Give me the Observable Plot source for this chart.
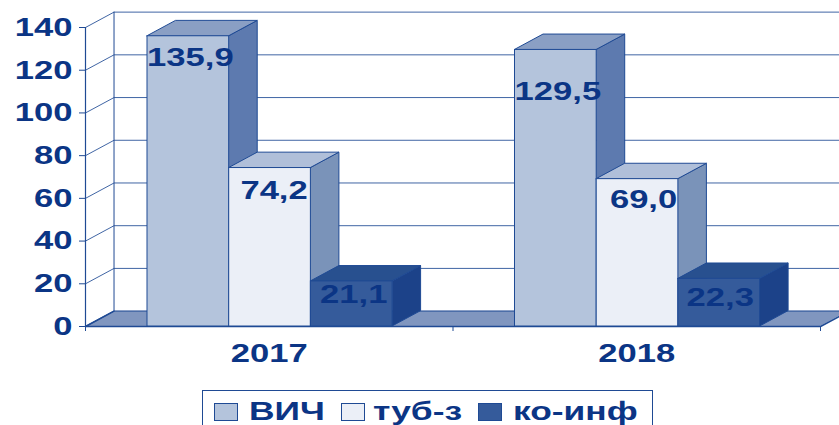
<!DOCTYPE html>
<html><head><meta charset="utf-8">
<script src="https://cdn.jsdelivr.net/npm/d3@7"></script>
<script src="https://cdn.jsdelivr.net/npm/@observablehq/plot@0.6"></script>
<style>
html,body{margin:0;padding:0;background:#fff;overflow:hidden;width:839px;height:425px}
#chart svg{display:block}
#legend{position:relative;margin-left:202px;width:451px;height:45px;border:1.5px solid #1f4a94;border-bottom:none;box-sizing:border-box;font:bold 26px "Liberation Sans",sans-serif;color:#0b3585}
#legend i{position:absolute;top:12px;width:22px;height:16px;border:1px solid #1f4a94}
#legend span{position:absolute;top:2px;line-height:36px;transform-origin:0 50%;transform:scaleX(1.36);white-space:nowrap}
</style></head>
<body><div id="chart"></div><div id="legend"></div>
<script>
const years = ["2017", "2018"];
const series = ["ВИЧ", "туб-з", "ко-инф"];
const values2017 = [135.9, 74.2, 21.1];
const values2018 = [129.5, 69.0, 22.3];
const labels2017 = ["135,9", "74,2", "21,1"];
const labels2018 = ["129,5", "69,0", "22,3"];
const yTicks = [0, 20, 40, 60, 80, 100, 120, 140];

const frontColors = ["#b4c4dc", "#ebeff7", "#355b9b"];
const sideColors = ["#5d7aaf", "#7a93b9", "#1c4289"];
const topColors = ["#8a9fc4", "#b0bfd9", "#28508f"];
const lineColor = "#1f4a94", textColor = "#0b3585", floorColor = "#8096bf";
const font = "Liberation Sans";

// Oblique projection depth, group layout, in scale units
const depthX = 0.0776, depthY = 7.2;
const groupStart = 0.1687, barW = 0.2223;
// Hand placement of the value labels (px from bar centre / top)
const labelDx = [[2, 4, 2], [2, 6, 1]];
const labelDy = [[21, 23, 13], [42, 21, 19]];

const marks = [];
// floor
marks.push(Plot.areaX([{y: 0, a: 0, b: 2}, {y: depthY, a: depthX, b: 2 + depthX}],
  {y: "y", x1: "a", x2: "b", fill: floorColor, stroke: "none"}));
// gridlines with wall diagonals
for (const v of yTicks) {
  marks.push(Plot.line([[0, v], [depthX, v + depthY], [2 + depthX, v + depthY]],
    {stroke: lineColor, strokeWidth: 1, strokeOpacity: 0.85}));
}
// back wall & front axis
marks.push(Plot.ruleX([depthX], {y1: depthY, y2: 140 + depthY, stroke: lineColor}));
marks.push(Plot.line([[0, 0], [depthX, depthY]], {stroke: lineColor}));
marks.push(Plot.line([[2, 0], [2 + depthX, depthY]], {stroke: lineColor}));
marks.push(Plot.ruleY([0], {stroke: lineColor, strokeWidth: 1.5}));
marks.push(Plot.ruleX([0], {y1: 0, y2: 140, stroke: lineColor, strokeWidth: 1.2}));
marks.push(Plot.axisY({ticks: yTicks, tickSize: 6, tickPadding: 7, label: null, stroke: lineColor, fill: textColor,
  fontSize: 26, fontWeight: "bold", fontFamily: font}));
marks.push(Plot.axisX({ticks: [0, 1, 2], tickSize: 5, tickFormat: () => "", label: null, stroke: lineColor}));
// years
marks.push(Plot.text(years, {x: (d, i) => i + 0.5, y: () => 0, text: d => d, dy: 27,
  fontSize: 26, fontWeight: "bold", fontFamily: font, fill: textColor}));
// bars, painted left to right
[values2017, values2018].forEach((vals, g) => {
  vals.forEach((v, s) => {
    const a = g + groupStart + s * barW, b = a + barW;
    marks.push(Plot.areaY([{x: b, y1: 0, y2: v}, {x: b + depthX, y1: depthY, y2: v + depthY}],
      {x: "x", y1: "y1", y2: "y2", fill: sideColors[s], stroke: lineColor}));
    marks.push(Plot.areaX([{y: v, a, b}, {y: v + depthY, a: a + depthX, b: b + depthX}],
      {y: "y", x1: "a", x2: "b", fill: topColors[s], stroke: lineColor}));
    marks.push(Plot.rect([{a, b, v}], {x1: "a", x2: "b", y1: 0, y2: "v", fill: frontColors[s], stroke: lineColor, insetTop: 0}));
  });
});
// value labels
[labels2017, labels2018].forEach((labs, g) => {
  const vals = g ? values2018 : values2017;
  labs.forEach((t, s) => {
    marks.push(Plot.text([t], {
      x: () => g + groupStart + (s + 0.5) * barW, y: () => vals[s], text: d => d,
      dx: labelDx[g][s], dy: labelDy[g][s],
      fontSize: 26, fontWeight: "bold", fontFamily: font, fill: textColor}));
  });
});

const chart = Plot.plot({
  width: 839, height: 390,
  marginLeft: 85, marginRight: 19, marginTop: 27, marginBottom: 64,
  x: {type: "linear", domain: [0, 2], axis: null},
  y: {domain: [0, 140], axis: null},
  style: {fontFamily: font, background: "#fff", overflow: "hidden"},
  marks
});
document.getElementById("chart").append(chart);
// Widen the text the way the reference does
chart.querySelectorAll("text").forEach(t => {
  const len = t.getComputedTextLength();
  if (len > 0) {
    t.setAttribute("textLength", (len * 1.33).toFixed(1));
    t.setAttribute("lengthAdjust", "spacingAndGlyphs");
  }
});
// Legend
const legend = document.getElementById("legend");
const swatchX = [11, 138, 275], textX = [46, 170, 310];
series.forEach((name, i) => {
  const sw = document.createElement("i");
  sw.style.left = swatchX[i] + "px";
  sw.style.background = frontColors[i];
  const sp = document.createElement("span");
  sp.style.left = textX[i] + "px";
  sp.textContent = name;
  legend.append(sw, sp);
});
</script></body></html>
